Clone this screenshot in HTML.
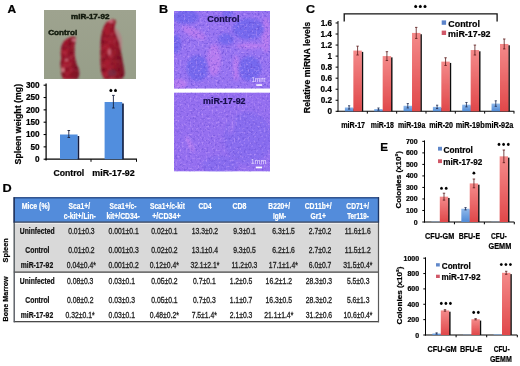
<!DOCTYPE html><html><head><meta charset="utf-8"><style>html,body{margin:0;padding:0;background:#fff;}svg{display:block;will-change:transform}</style></head><body>
<svg width="520" height="366" viewBox="0 0 520 366" font-family='"Liberation Sans", sans-serif'>
<defs>
<linearGradient id="redg" x1="0" y1="0" x2="0" y2="1"><stop offset="0" stop-color="#f48a8a"/><stop offset="1" stop-color="#e0484a"/></linearGradient>
<linearGradient id="blueg" x1="0" y1="0" x2="0" y2="1"><stop offset="0" stop-color="#8fb8ea"/><stop offset="1" stop-color="#4f8ad6"/></linearGradient>
<linearGradient id="photobg" x1="0" y1="0" x2="0" y2="1"><stop offset="0" stop-color="#9ea38f"/><stop offset="1" stop-color="#979e89"/></linearGradient>
<linearGradient id="spl" x1="0" y1="0" x2="1" y2="0"><stop offset="0" stop-color="#8c1828"/><stop offset="0.25" stop-color="#a81c30"/><stop offset="0.6" stop-color="#961a2c"/><stop offset="1" stop-color="#741424"/></linearGradient>
<filter id="sptex" x="0" y="0" width="100%" height="100%" color-interpolation-filters="sRGB">
 <feTurbulence type="fractalNoise" baseFrequency="0.18" numOctaves="2" seed="11"/>
 <feColorMatrix type="matrix" values="0 0 0 0 0.42  0 0 0 0 0.03  0 0 0 0 0.12  3.2 0 0 0 -1.45"/>
</filter>
<filter id="gblur" x="0" y="0" width="100%" height="100%"><feGaussianBlur stdDeviation="0.35"/></filter>
<filter id="sptex2" x="0" y="0" width="100%" height="100%" color-interpolation-filters="sRGB">
 <feTurbulence type="fractalNoise" baseFrequency="0.22" numOctaves="2" seed="23"/>
 <feColorMatrix type="matrix" values="0 0 0 0 0.82  0 0 0 0 0.36  0 0 0 0 0.42  0 3.5 0 0 -1.75"/>
</filter>
<filter id="blur1" x="-20%" y="-20%" width="140%" height="140%"><feGaussianBlur stdDeviation="0.8"/></filter>
<filter id="blur3" x="-50%" y="-50%" width="200%" height="200%"><feGaussianBlur stdDeviation="1.8"/></filter>
<filter id="dspk" x="0" y="0" width="100%" height="100%" color-interpolation-filters="sRGB">
 <feTurbulence type="fractalNoise" baseFrequency="0.45" numOctaves="2" seed="7"/>
 <feColorMatrix type="matrix" values="0 0 0 0 0.36  0 0 0 0 0.26  0 0 0 0 0.80  4 0 0 0 -2.1"/>
</filter>
<filter id="lspk" x="0" y="0" width="100%" height="100%" color-interpolation-filters="sRGB">
 <feTurbulence type="fractalNoise" baseFrequency="0.5" numOctaves="2" seed="19"/>
 <feColorMatrix type="matrix" values="0 0 0 0 0.82  0 0 0 0 0.66  0 0 0 0 1.0  0 4 0 0 -2.2"/>
</filter>
<clipPath id="clipB1"><rect x="174" y="11" width="96" height="77.7"/></clipPath>
<clipPath id="clipB2"><rect x="174" y="92.4" width="96" height="79.2"/></clipPath>
<clipPath id="clipA"><rect x="44" y="10" width="92" height="69"/></clipPath>
</defs>
<rect width="520" height="366" fill="#fff"/>
<g filter="url(#gblur)">
<text x="7.50" y="12.50" font-size="11.5" font-weight="bold" fill="#000" stroke="#000" stroke-width="0.22" textLength="8.62" lengthAdjust="spacingAndGlyphs" >A</text>
<g clip-path="url(#clipA)">
<rect x="44.00" y="10.00" width="92.00" height="69.00" fill="url(#photobg)" />
<clipPath id="cl1"><path d="M72.8,36.6 C75,36.6 76.5,37.5 76,39.5 C75,43 74.4,47 74.6,51 C74.8,56 75.2,60 76.6,64 C77.8,67.5 79.6,70 79.3,74 C79.1,77 78,78.6 76.5,79.2 L64,79.2 C62.3,78 61.5,76 61.4,73 C61.2,70 60.4,67 60.6,63 C60.8,60 61.6,59 61,56 C60.4,52 60.8,48 62,45 C63.5,41 67,38 72.8,36.6 Z"/></clipPath><clipPath id="cl2"><path d="M111.5,19.5 C114,19 116,20 115.8,22 C115.6,24.5 114.4,26 114.6,29 C115,33 117.6,37 119,42 C120.6,48 121.4,55 122.6,61 C123.6,66 124.6,70 124.4,74 C124.2,77 122.5,78.8 120.5,79.2 L105,79.2 C103,77.5 101.8,75 101.2,71 C100.6,66 100.4,60 100.5,53 C100.6,46 100.6,41 101.3,36 C102.2,30 104,25 107,22 C108.5,20.5 110,19.7 111.5,19.5 Z"/></clipPath>
<g filter="url(#blur1)">
<path d="M114,27 C117,28 120,32 121.5,38 C122.5,44 122,50 121,54 C119.5,48 118,40 115.5,33 Z" fill="#b87880" opacity="0.7"/>
<path d="M72.8,36.6 C75,36.6 76.5,37.5 76,39.5 C75,43 74.4,47 74.6,51 C74.8,56 75.2,60 76.6,64 C77.8,67.5 79.6,70 79.3,74 C79.1,77 78,78.6 76.5,79.2 L64,79.2 C62.3,78 61.5,76 61.4,73 C61.2,70 60.4,67 60.6,63 C60.8,60 61.6,59 61,56 C60.4,52 60.8,48 62,45 C63.5,41 67,38 72.8,36.6 Z" fill="url(#spl)"/>
<g clip-path="url(#cl1)"><rect x="44" y="10" width="92" height="70" fill="#fff" filter="url(#sptex)" opacity="0.6"/><rect x="44" y="10" width="92" height="70" fill="#fff" filter="url(#sptex2)" opacity="0.3"/></g>
<path d="M111.5,19.5 C114,19 116,20 115.8,22 C115.6,24.5 114.4,26 114.6,29 C115,33 117.6,37 119,42 C120.6,48 121.4,55 122.6,61 C123.6,66 124.6,70 124.4,74 C124.2,77 122.5,78.8 120.5,79.2 L105,79.2 C103,77.5 101.8,75 101.2,71 C100.6,66 100.4,60 100.5,53 C100.6,46 100.6,41 101.3,36 C102.2,30 104,25 107,22 C108.5,20.5 110,19.7 111.5,19.5 Z" fill="url(#spl)"/>
<g clip-path="url(#cl2)"><rect x="44" y="10" width="92" height="70" fill="#fff" filter="url(#sptex)" opacity="0.6"/><rect x="44" y="10" width="92" height="70" fill="#fff" filter="url(#sptex2)" opacity="0.3"/></g>
<ellipse cx="63" cy="70" rx="1.4" ry="2.2" fill="#f0a0a8" opacity="0.75"/>
<ellipse cx="66.5" cy="60" rx="1.5" ry="1.2" fill="#e890a0" opacity="0.7"/>
<ellipse cx="74" cy="40" rx="2.2" ry="1.3" fill="#f0a0b0" opacity="0.7"/>
<ellipse cx="111" cy="21.5" rx="2.6" ry="1.4" fill="#f0a0b0" opacity="0.6"/>
<ellipse cx="109.5" cy="52" rx="1.2" ry="3.5" fill="#e8a0b0" opacity="0.6"/>
<ellipse cx="112" cy="73" rx="4.5" ry="3.5" fill="#6a3a50" opacity="0.55"/>
</g>
<text x="70.98" y="19.10" font-size="8" font-weight="bold" fill="#121a0c" stroke="#121a0c" stroke-width="0.45" textLength="38.55" lengthAdjust="spacingAndGlyphs" >miR-17-92</text>
<text x="48.17" y="34.90" font-size="8" font-weight="bold" fill="#121a0c" stroke="#121a0c" stroke-width="0.45" textLength="29.00" lengthAdjust="spacingAndGlyphs" >Control</text>
</g>
<line x1="46.10" y1="83.40" x2="46.10" y2="160.50" stroke="#000" stroke-width="1.25"/>
<line x1="43.60" y1="159.20" x2="46.10" y2="159.20" stroke="#000" stroke-width="1.1"/>
<text x="35.08" y="162.10" font-size="8.2" font-weight="bold" fill="#000" stroke="#000" stroke-width="0.22" textLength="4.56" lengthAdjust="spacingAndGlyphs" >0</text>
<line x1="43.60" y1="146.86" x2="46.10" y2="146.86" stroke="#000" stroke-width="1.1"/>
<text x="30.53" y="149.76" font-size="8.2" font-weight="bold" fill="#000" stroke="#000" stroke-width="0.22" textLength="9.12" lengthAdjust="spacingAndGlyphs" >50</text>
<line x1="43.60" y1="134.53" x2="46.10" y2="134.53" stroke="#000" stroke-width="1.1"/>
<text x="25.97" y="137.43" font-size="8.2" font-weight="bold" fill="#000" stroke="#000" stroke-width="0.22" textLength="13.68" lengthAdjust="spacingAndGlyphs" >100</text>
<line x1="43.60" y1="122.19" x2="46.10" y2="122.19" stroke="#000" stroke-width="1.1"/>
<text x="25.97" y="125.09" font-size="8.2" font-weight="bold" fill="#000" stroke="#000" stroke-width="0.22" textLength="13.68" lengthAdjust="spacingAndGlyphs" >150</text>
<line x1="43.60" y1="109.86" x2="46.10" y2="109.86" stroke="#000" stroke-width="1.1"/>
<text x="25.97" y="112.76" font-size="8.2" font-weight="bold" fill="#000" stroke="#000" stroke-width="0.22" textLength="13.68" lengthAdjust="spacingAndGlyphs" >200</text>
<line x1="43.60" y1="97.52" x2="46.10" y2="97.52" stroke="#000" stroke-width="1.1"/>
<text x="25.97" y="100.42" font-size="8.2" font-weight="bold" fill="#000" stroke="#000" stroke-width="0.22" textLength="13.68" lengthAdjust="spacingAndGlyphs" >250</text>
<line x1="43.60" y1="85.19" x2="46.10" y2="85.19" stroke="#000" stroke-width="1.1"/>
<text x="25.98" y="88.09" font-size="8.2" font-weight="bold" fill="#000" stroke="#000" stroke-width="0.22" textLength="13.68" lengthAdjust="spacingAndGlyphs" >300</text>
<line x1="45.50" y1="159.10" x2="137.00" y2="159.10" stroke="#000" stroke-width="1.3"/>
<line x1="91.00" y1="159.20" x2="91.00" y2="161.80" stroke="#000" stroke-width="1"/>
<line x1="136.50" y1="159.20" x2="136.50" y2="161.80" stroke="#000" stroke-width="1"/>
<rect x="77.40" y="136.00" width="1.80" height="23.20" fill="#121c3c" />
<rect x="60.00" y="134.50" width="17.60" height="24.70" fill="#518ede" />
<rect x="122.00" y="103.50" width="1.80" height="55.70" fill="#121c3c" />
<rect x="104.60" y="102.00" width="17.60" height="57.20" fill="#518ede" />
<line x1="68.80" y1="130.50" x2="68.80" y2="137.50" stroke="#1a2340" stroke-width="0.9"/>
<line x1="67.50" y1="130.50" x2="70.10" y2="130.50" stroke="#1a2340" stroke-width="0.9"/>
<line x1="67.50" y1="137.50" x2="70.10" y2="137.50" stroke="#1a2340" stroke-width="0.9"/>
<line x1="113.40" y1="95.40" x2="113.40" y2="108.00" stroke="#1a2340" stroke-width="0.9"/>
<line x1="112.10" y1="95.40" x2="114.70" y2="95.40" stroke="#1a2340" stroke-width="0.9"/>
<line x1="112.10" y1="108.00" x2="114.70" y2="108.00" stroke="#1a2340" stroke-width="0.9"/>
<circle cx="110.90" cy="90.50" r="1.5" fill="#000"/>
<path d="M110.90,88.50 l0.45,0.9 l-0.9,0 z" fill="#000"/>
<circle cx="115.50" cy="90.50" r="1.5" fill="#000"/>
<path d="M115.50,88.50 l0.45,0.9 l-0.9,0 z" fill="#000"/>
<text transform="translate(20.70,164.20) rotate(-90)" x="-0.26" y="0" font-size="9" font-weight="bold" fill="#000" stroke="#000" stroke-width="0.22" textLength="80.58" lengthAdjust="spacingAndGlyphs">Spleen weight (mg)</text>
<text x="53.45" y="175.90" font-size="9" font-weight="bold" fill="#000" stroke="#000" stroke-width="0.22" textLength="30.85" lengthAdjust="spacingAndGlyphs" >Control</text>
<text x="92.32" y="175.90" font-size="9" font-weight="bold" fill="#000" stroke="#000" stroke-width="0.22" textLength="42.43" lengthAdjust="spacingAndGlyphs" >miR-17-92</text>
<text x="158.98" y="12.70" font-size="11.5" font-weight="bold" fill="#000" stroke="#000" stroke-width="0.22" textLength="9.12" lengthAdjust="spacingAndGlyphs" >B</text>
<g clip-path="url(#clipB1)">
<rect x="174.00" y="11.00" width="96.00" height="77.70" fill="#9874f2" />
<g filter="url(#blur3)">
<ellipse cx="194" cy="33" rx="13" ry="4.5" transform="rotate(25 194 33)" fill="#bc7cf0" opacity="0.85"/>
<ellipse cx="214" cy="60" rx="7" ry="16" transform="rotate(0 214 60)" fill="#bc7cf0" opacity="0.85"/>
<ellipse cx="236" cy="68" rx="3" ry="13" transform="rotate(0 236 68)" fill="#bc7cf0" opacity="0.85"/>
<ellipse cx="266" cy="35" rx="4" ry="18" transform="rotate(0 266 35)" fill="#bc7cf0" opacity="0.85"/>
<ellipse cx="180" cy="84" rx="7" ry="5" transform="rotate(0 180 84)" fill="#bc7cf0" opacity="0.85"/>
<ellipse cx="250" cy="46" rx="14" ry="3" transform="rotate(0 250 46)" fill="#bc7cf0" opacity="0.85"/>
<ellipse cx="186" cy="17" rx="13" ry="7" transform="rotate(0 186 17)" fill="#7468ee" opacity="0.95"/>
<ellipse cx="176" cy="44" rx="5" ry="10" transform="rotate(0 176 44)" fill="#7468ee" opacity="0.95"/>
<ellipse cx="197.5" cy="68" rx="11" ry="13" transform="rotate(0 197.5 68)" fill="#7468ee" opacity="0.95"/>
<ellipse cx="248.5" cy="29" rx="16" ry="10.5" transform="rotate(0 248.5 29)" fill="#7468ee" opacity="0.95"/>
<ellipse cx="226" cy="39" rx="8" ry="6" transform="rotate(0 226 39)" fill="#7468ee" opacity="0.95"/>
<ellipse cx="249.7" cy="68.4" rx="11.5" ry="12.5" transform="rotate(0 249.7 68.4)" fill="#7468ee" opacity="0.95"/>
<ellipse cx="228" cy="14" rx="6" ry="3" transform="rotate(0 228 14)" fill="#7468ee" opacity="0.95"/>
</g>
<rect x="174" y="11" width="96" height="77.7" fill="#fff" filter="url(#dspk)" opacity="0.5"/>
<rect x="174" y="11" width="96" height="77.7" fill="#fff" filter="url(#lspk)" opacity="0.5"/>
</g>
<g clip-path="url(#clipB2)">
<rect x="174.00" y="92.40" width="96.00" height="79.20" fill="#9670f0" />
<g filter="url(#blur3)">
<ellipse cx="190" cy="144" rx="1.6" ry="9" transform="rotate(-25 190 144)" fill="#cc88f4" opacity="0.85"/>
<ellipse cx="232" cy="126" rx="1.3" ry="9" transform="rotate(12 232 126)" fill="#cc88f4" opacity="0.85"/>
<ellipse cx="248" cy="138" rx="24" ry="26" transform="rotate(0 248 138)" fill="#7468ee" opacity="0.35"/>
<ellipse cx="220" cy="165" rx="18" ry="9" transform="rotate(0 220 165)" fill="#7468ee" opacity="0.35"/>
</g>
<rect x="174" y="92.4" width="96" height="79.2" fill="#fff" filter="url(#dspk)" opacity="0.4"/>
<rect x="174" y="92.4" width="96" height="79.2" fill="#fff" filter="url(#lspk)" opacity="0.5"/>
</g>
<text x="207.34" y="22.10" font-size="9" font-weight="bold" fill="#160f4a" stroke="#160f4a" stroke-width="0.22" textLength="32.09" lengthAdjust="spacingAndGlyphs" >Control</text>
<text x="203.12" y="104.10" font-size="9" font-weight="bold" fill="#160f4a" stroke="#160f4a" stroke-width="0.22" textLength="42.43" lengthAdjust="spacingAndGlyphs" >miR-17-92</text>
<text x="251.42" y="81.60" font-size="6.5" font-weight="normal" fill="#e8dcff" stroke="#e8dcff" stroke-width="0" textLength="14.18" lengthAdjust="spacingAndGlyphs" >1mm</text>
<rect x="256.20" y="84.30" width="5.90" height="1.50" fill="#fff" />
<text x="250.67" y="163.80" font-size="6.5" font-weight="normal" fill="#e8dcff" stroke="#e8dcff" stroke-width="0" textLength="15.56" lengthAdjust="spacingAndGlyphs" >1mm</text>
<rect x="255.80" y="166.60" width="6.20" height="1.70" fill="#fff" />
<text x="305.90" y="12.80" font-size="11.5" font-weight="bold" fill="#000" stroke="#000" stroke-width="0.22" textLength="9.04" lengthAdjust="spacingAndGlyphs" >C</text>
<line x1="338.00" y1="21.00" x2="338.00" y2="111.80" stroke="#000" stroke-width="1"/>
<line x1="335.60" y1="111.30" x2="338.00" y2="111.30" stroke="#000" stroke-width="1"/>
<text x="327.58" y="114.20" font-size="8.2" font-weight="bold" fill="#000" stroke="#000" stroke-width="0.22" textLength="4.56" lengthAdjust="spacingAndGlyphs" >0</text>
<line x1="335.60" y1="100.26" x2="338.00" y2="100.26" stroke="#000" stroke-width="1"/>
<text x="320.73" y="103.16" font-size="8.2" font-weight="bold" fill="#000" stroke="#000" stroke-width="0.22" textLength="11.40" lengthAdjust="spacingAndGlyphs" >0.2</text>
<line x1="335.60" y1="89.22" x2="338.00" y2="89.22" stroke="#000" stroke-width="1"/>
<text x="320.44" y="92.12" font-size="8.2" font-weight="bold" fill="#000" stroke="#000" stroke-width="0.22" textLength="11.40" lengthAdjust="spacingAndGlyphs" >0.4</text>
<line x1="335.60" y1="78.18" x2="338.00" y2="78.18" stroke="#000" stroke-width="1"/>
<text x="320.69" y="81.08" font-size="8.2" font-weight="bold" fill="#000" stroke="#000" stroke-width="0.22" textLength="11.40" lengthAdjust="spacingAndGlyphs" >0.6</text>
<line x1="335.60" y1="67.14" x2="338.00" y2="67.14" stroke="#000" stroke-width="1"/>
<text x="320.65" y="70.04" font-size="8.2" font-weight="bold" fill="#000" stroke="#000" stroke-width="0.22" textLength="11.40" lengthAdjust="spacingAndGlyphs" >0.8</text>
<line x1="335.60" y1="56.10" x2="338.00" y2="56.10" stroke="#000" stroke-width="1"/>
<text x="327.45" y="59.00" font-size="8.2" font-weight="bold" fill="#000" stroke="#000" stroke-width="0.22" textLength="4.56" lengthAdjust="spacingAndGlyphs" >1</text>
<line x1="335.60" y1="45.06" x2="338.00" y2="45.06" stroke="#000" stroke-width="1"/>
<text x="320.73" y="47.96" font-size="8.2" font-weight="bold" fill="#000" stroke="#000" stroke-width="0.22" textLength="11.40" lengthAdjust="spacingAndGlyphs" >1.2</text>
<line x1="335.60" y1="34.02" x2="338.00" y2="34.02" stroke="#000" stroke-width="1"/>
<text x="320.44" y="36.92" font-size="8.2" font-weight="bold" fill="#000" stroke="#000" stroke-width="0.22" textLength="11.40" lengthAdjust="spacingAndGlyphs" >1.4</text>
<line x1="335.60" y1="22.98" x2="338.00" y2="22.98" stroke="#000" stroke-width="1"/>
<text x="320.69" y="25.88" font-size="8.2" font-weight="bold" fill="#000" stroke="#000" stroke-width="0.22" textLength="11.40" lengthAdjust="spacingAndGlyphs" >1.6</text>
<line x1="337.50" y1="111.30" x2="514.30" y2="111.30" stroke="#000" stroke-width="1.1"/>
<line x1="367.33" y1="111.30" x2="367.33" y2="113.60" stroke="#000" stroke-width="1"/>
<line x1="396.66" y1="111.30" x2="396.66" y2="113.60" stroke="#000" stroke-width="1"/>
<line x1="425.99" y1="111.30" x2="425.99" y2="113.60" stroke="#000" stroke-width="1"/>
<line x1="455.32" y1="111.30" x2="455.32" y2="113.60" stroke="#000" stroke-width="1"/>
<line x1="484.65" y1="111.30" x2="484.65" y2="113.60" stroke="#000" stroke-width="1"/>
<line x1="513.98" y1="111.30" x2="513.98" y2="113.60" stroke="#000" stroke-width="1"/>
<rect x="353.15" y="108.44" width="1.30" height="2.86" fill="#1c2b60" />
<rect x="344.90" y="107.44" width="8.45" height="3.86" fill="url(#blueg)" />
<rect x="361.50" y="51.88" width="1.70" height="59.42" fill="#111" />
<rect x="353.35" y="50.58" width="8.45" height="60.72" fill="url(#redg)" />
<line x1="349.12" y1="105.78" x2="349.12" y2="109.09" stroke="#1a2a50" stroke-width="0.8"/>
<line x1="348.02" y1="105.78" x2="350.23" y2="105.78" stroke="#1a2a50" stroke-width="0.8"/>
<line x1="348.02" y1="109.09" x2="350.23" y2="109.09" stroke="#1a2a50" stroke-width="0.8"/>
<line x1="357.58" y1="46.16" x2="357.58" y2="55.00" stroke="#5a1a1a" stroke-width="0.8"/>
<line x1="356.38" y1="46.16" x2="358.78" y2="46.16" stroke="#5a1a1a" stroke-width="0.8"/>
<line x1="356.38" y1="55.00" x2="358.78" y2="55.00" stroke="#5a1a1a" stroke-width="0.8"/>
<rect x="382.48" y="110.09" width="1.30" height="1.21" fill="#1c2b60" />
<rect x="374.23" y="109.09" width="8.45" height="2.21" fill="url(#blueg)" />
<rect x="390.83" y="57.40" width="1.70" height="53.90" fill="#111" />
<rect x="382.68" y="56.10" width="8.45" height="55.20" fill="url(#redg)" />
<line x1="378.45" y1="107.99" x2="378.45" y2="110.20" stroke="#1a2a50" stroke-width="0.8"/>
<line x1="377.35" y1="107.99" x2="379.56" y2="107.99" stroke="#1a2a50" stroke-width="0.8"/>
<line x1="377.35" y1="110.20" x2="379.56" y2="110.20" stroke="#1a2a50" stroke-width="0.8"/>
<line x1="386.91" y1="51.68" x2="386.91" y2="60.52" stroke="#5a1a1a" stroke-width="0.8"/>
<line x1="385.71" y1="51.68" x2="388.11" y2="51.68" stroke="#5a1a1a" stroke-width="0.8"/>
<line x1="385.71" y1="60.52" x2="388.11" y2="60.52" stroke="#5a1a1a" stroke-width="0.8"/>
<rect x="411.81" y="106.78" width="1.30" height="4.52" fill="#1c2b60" />
<rect x="403.56" y="105.78" width="8.45" height="5.52" fill="url(#blueg)" />
<rect x="420.16" y="34.22" width="1.70" height="77.08" fill="#111" />
<rect x="412.01" y="32.92" width="8.45" height="78.38" fill="url(#redg)" />
<line x1="407.78" y1="103.57" x2="407.78" y2="107.99" stroke="#1a2a50" stroke-width="0.8"/>
<line x1="406.68" y1="103.57" x2="408.88" y2="103.57" stroke="#1a2a50" stroke-width="0.8"/>
<line x1="406.68" y1="107.99" x2="408.88" y2="107.99" stroke="#1a2a50" stroke-width="0.8"/>
<line x1="416.24" y1="27.40" x2="416.24" y2="38.44" stroke="#5a1a1a" stroke-width="0.8"/>
<line x1="415.04" y1="27.40" x2="417.44" y2="27.40" stroke="#5a1a1a" stroke-width="0.8"/>
<line x1="415.04" y1="38.44" x2="417.44" y2="38.44" stroke="#5a1a1a" stroke-width="0.8"/>
<rect x="441.14" y="107.88" width="1.30" height="3.42" fill="#1c2b60" />
<rect x="432.89" y="106.88" width="8.45" height="4.42" fill="url(#blueg)" />
<rect x="449.49" y="62.92" width="1.70" height="48.38" fill="#111" />
<rect x="441.34" y="61.62" width="8.45" height="49.68" fill="url(#redg)" />
<line x1="437.12" y1="105.23" x2="437.12" y2="108.54" stroke="#1a2a50" stroke-width="0.8"/>
<line x1="436.01" y1="105.23" x2="438.22" y2="105.23" stroke="#1a2a50" stroke-width="0.8"/>
<line x1="436.01" y1="108.54" x2="438.22" y2="108.54" stroke="#1a2a50" stroke-width="0.8"/>
<line x1="445.57" y1="57.76" x2="445.57" y2="65.48" stroke="#5a1a1a" stroke-width="0.8"/>
<line x1="444.37" y1="57.76" x2="446.77" y2="57.76" stroke="#5a1a1a" stroke-width="0.8"/>
<line x1="444.37" y1="65.48" x2="446.77" y2="65.48" stroke="#5a1a1a" stroke-width="0.8"/>
<rect x="470.47" y="105.68" width="1.30" height="5.62" fill="#1c2b60" />
<rect x="462.22" y="104.68" width="8.45" height="6.62" fill="url(#blueg)" />
<rect x="478.82" y="51.33" width="1.70" height="59.97" fill="#111" />
<rect x="470.67" y="50.03" width="8.45" height="61.27" fill="url(#redg)" />
<line x1="466.44" y1="102.47" x2="466.44" y2="106.88" stroke="#1a2a50" stroke-width="0.8"/>
<line x1="465.34" y1="102.47" x2="467.55" y2="102.47" stroke="#1a2a50" stroke-width="0.8"/>
<line x1="465.34" y1="106.88" x2="467.55" y2="106.88" stroke="#1a2a50" stroke-width="0.8"/>
<line x1="474.90" y1="45.06" x2="474.90" y2="55.00" stroke="#5a1a1a" stroke-width="0.8"/>
<line x1="473.70" y1="45.06" x2="476.10" y2="45.06" stroke="#5a1a1a" stroke-width="0.8"/>
<line x1="473.70" y1="55.00" x2="476.10" y2="55.00" stroke="#5a1a1a" stroke-width="0.8"/>
<rect x="499.80" y="104.57" width="1.30" height="6.73" fill="#1c2b60" />
<rect x="491.55" y="103.57" width="8.45" height="7.73" fill="url(#blueg)" />
<rect x="508.15" y="45.26" width="1.70" height="66.04" fill="#111" />
<rect x="500.00" y="43.96" width="8.45" height="67.34" fill="url(#redg)" />
<line x1="495.77" y1="100.81" x2="495.77" y2="106.33" stroke="#1a2a50" stroke-width="0.8"/>
<line x1="494.67" y1="100.81" x2="496.88" y2="100.81" stroke="#1a2a50" stroke-width="0.8"/>
<line x1="494.67" y1="106.33" x2="496.88" y2="106.33" stroke="#1a2a50" stroke-width="0.8"/>
<line x1="504.23" y1="38.99" x2="504.23" y2="48.92" stroke="#5a1a1a" stroke-width="0.8"/>
<line x1="503.03" y1="38.99" x2="505.43" y2="38.99" stroke="#5a1a1a" stroke-width="0.8"/>
<line x1="503.03" y1="48.92" x2="505.43" y2="48.92" stroke="#5a1a1a" stroke-width="0.8"/>
<text x="341.24" y="128.30" font-size="8.3" font-weight="bold" fill="#000" stroke="#000" stroke-width="0.22" textLength="23.85" lengthAdjust="spacingAndGlyphs" >miR-17</text>
<text x="370.75" y="128.30" font-size="8.3" font-weight="bold" fill="#000" stroke="#000" stroke-width="0.22" textLength="23.16" lengthAdjust="spacingAndGlyphs" >miR-18</text>
<text x="398.04" y="128.30" font-size="8.3" font-weight="bold" fill="#000" stroke="#000" stroke-width="0.22" textLength="27.29" lengthAdjust="spacingAndGlyphs" >miR-19a</text>
<text x="429.14" y="128.30" font-size="8.3" font-weight="bold" fill="#000" stroke="#000" stroke-width="0.22" textLength="23.85" lengthAdjust="spacingAndGlyphs" >miR-20</text>
<text x="455.72" y="128.30" font-size="8.3" font-weight="bold" fill="#000" stroke="#000" stroke-width="0.22" textLength="28.97" lengthAdjust="spacingAndGlyphs" >miR-19b</text>
<text x="484.93" y="128.30" font-size="8.3" font-weight="bold" fill="#000" stroke="#000" stroke-width="0.22" textLength="28.31" lengthAdjust="spacingAndGlyphs" >miR-92a</text>
<text transform="translate(309.60,112.60) rotate(-90)" x="-0.57" y="0" font-size="8.3" font-weight="bold" fill="#000" stroke="#000" stroke-width="0.22" textLength="91.34" lengthAdjust="spacingAndGlyphs">Relative miRNA levels</text>
<polyline points="344.2,21.5 344.2,13.8 497.1,13.8 497.1,21.6" fill="none" stroke="#111" stroke-width="1.3"/>
<circle cx="415.70" cy="6.60" r="1.5" fill="#000"/>
<path d="M415.70,4.60 l0.45,0.9 l-0.9,0 z" fill="#000"/>
<circle cx="420.30" cy="6.60" r="1.5" fill="#000"/>
<path d="M420.30,4.60 l0.45,0.9 l-0.9,0 z" fill="#000"/>
<circle cx="425.00" cy="6.60" r="1.5" fill="#000"/>
<path d="M425.00,4.60 l0.45,0.9 l-0.9,0 z" fill="#000"/>
<rect x="441.70" y="20.40" width="4.40" height="4.40" fill="#5c84ca" />
<rect x="441.70" y="30.60" width="4.40" height="4.40" fill="#d05868" />
<text x="448.34" y="27.30" font-size="9" font-weight="bold" fill="#000" stroke="#000" stroke-width="0.22" textLength="31.57" lengthAdjust="spacingAndGlyphs" >Control</text>
<text x="448.12" y="37.20" font-size="9" font-weight="bold" fill="#000" stroke="#000" stroke-width="0.22" textLength="42.43" lengthAdjust="spacingAndGlyphs" >miR-17-92</text>
<text x="2.48" y="192.20" font-size="11.5" font-weight="bold" fill="#000" stroke="#000" stroke-width="0.22" textLength="9.16" lengthAdjust="spacingAndGlyphs" >D</text>
<rect x="13.80" y="197.40" width="365.00" height="24.40" fill="#528cdb" />
<rect x="13.80" y="222.00" width="365.00" height="49.80" fill="#d9d9d9" />
<rect x="13.80" y="197.20" width="365.00" height="1.20" fill="#1f3f7a" />
<rect x="13.80" y="221.50" width="365.00" height="1.30" fill="#1a2a4a" />
<rect x="13.80" y="271.50" width="365.00" height="1.20" fill="#3a3a3a" />
<rect x="13.80" y="321.00" width="365.00" height="1.30" fill="#4a4a4a" />
<rect x="13.50" y="197.20" width="1.40" height="125.10" fill="#555a60" />
<rect x="13.50" y="197.20" width="1.40" height="25.50" fill="#1f3566" />
<rect x="377.90" y="197.20" width="1.20" height="125.10" fill="#5a5a5a" />
<rect x="377.90" y="197.20" width="1.20" height="25.50" fill="#1f3566" />
<rect x="14.90" y="222.80" width="363.00" height="1.00" fill="#f0f0f0" />
<text x="21.65" y="209.40" font-size="8.6" font-weight="bold" fill="#fff" stroke="#fff" stroke-width="0.22" textLength="28.28" lengthAdjust="spacingAndGlyphs" >Mice (%)</text>
<text x="68.60" y="209.30" font-size="8.6" font-weight="bold" fill="#fff" stroke="#fff" stroke-width="0.22" textLength="21.45" lengthAdjust="spacingAndGlyphs" >Sca1+/</text>
<text x="63.73" y="218.90" font-size="8.6" font-weight="bold" fill="#fff" stroke="#fff" stroke-width="0.22" textLength="32.11" lengthAdjust="spacingAndGlyphs" >c-kit+/Lin-</text>
<text x="109.60" y="209.30" font-size="8.6" font-weight="bold" fill="#fff" stroke="#fff" stroke-width="0.22" textLength="26.84" lengthAdjust="spacingAndGlyphs" >Sca1+/c-</text>
<text x="106.42" y="218.90" font-size="8.6" font-weight="bold" fill="#fff" stroke="#fff" stroke-width="0.22" textLength="33.44" lengthAdjust="spacingAndGlyphs" >kit+/CD34-</text>
<text x="150.00" y="209.30" font-size="8.6" font-weight="bold" fill="#fff" stroke="#fff" stroke-width="0.22" textLength="34.89" lengthAdjust="spacingAndGlyphs" >Sca1+/c-kit</text>
<text x="152.22" y="218.90" font-size="8.6" font-weight="bold" fill="#fff" stroke="#fff" stroke-width="0.22" textLength="28.45" lengthAdjust="spacingAndGlyphs" >+/CD34+</text>
<text x="198.54" y="209.40" font-size="8.6" font-weight="bold" fill="#fff" stroke="#fff" stroke-width="0.22" textLength="13.00" lengthAdjust="spacingAndGlyphs" >CD4</text>
<text x="232.42" y="209.40" font-size="8.6" font-weight="bold" fill="#fff" stroke="#fff" stroke-width="0.22" textLength="13.99" lengthAdjust="spacingAndGlyphs" >CD8</text>
<text x="268.37" y="209.30" font-size="8.6" font-weight="bold" fill="#fff" stroke="#fff" stroke-width="0.22" textLength="21.68" lengthAdjust="spacingAndGlyphs" >B220+/</text>
<text x="272.98" y="218.90" font-size="8.6" font-weight="bold" fill="#fff" stroke="#fff" stroke-width="0.22" textLength="13.17" lengthAdjust="spacingAndGlyphs" >IgM-</text>
<text x="304.73" y="209.30" font-size="8.6" font-weight="bold" fill="#fff" stroke="#fff" stroke-width="0.22" textLength="26.93" lengthAdjust="spacingAndGlyphs" >CD11b+/</text>
<text x="310.53" y="218.90" font-size="8.6" font-weight="bold" fill="#fff" stroke="#fff" stroke-width="0.22" textLength="15.52" lengthAdjust="spacingAndGlyphs" >Gr1+</text>
<text x="346.33" y="209.30" font-size="8.6" font-weight="bold" fill="#fff" stroke="#fff" stroke-width="0.22" textLength="22.72" lengthAdjust="spacingAndGlyphs" >CD71+/</text>
<text x="347.24" y="218.90" font-size="8.6" font-weight="bold" fill="#fff" stroke="#fff" stroke-width="0.22" textLength="21.50" lengthAdjust="spacingAndGlyphs" >Ter119-</text>
<text x="19.80" y="234.20" font-size="8.6" font-weight="bold" fill="#111" stroke="#111" stroke-width="0.22" textLength="34.86" lengthAdjust="spacingAndGlyphs" >Uninfected</text>
<text x="68.20" y="234.20" font-size="8.6" font-weight="normal" fill="#222" stroke="#222" stroke-width="0.32" textLength="26.40" lengthAdjust="spacingAndGlyphs" >0.01±0.3</text>
<text x="108.53" y="234.20" font-size="8.6" font-weight="normal" fill="#222" stroke="#222" stroke-width="0.32" textLength="30.18" lengthAdjust="spacingAndGlyphs" >0.001±0.1</text>
<text x="151.22" y="234.20" font-size="8.6" font-weight="normal" fill="#222" stroke="#222" stroke-width="0.32" textLength="26.40" lengthAdjust="spacingAndGlyphs" >0.02±0.1</text>
<text x="191.72" y="234.20" font-size="8.6" font-weight="normal" fill="#222" stroke="#222" stroke-width="0.32" textLength="26.40" lengthAdjust="spacingAndGlyphs" >13.3±0.2</text>
<text x="233.19" y="234.20" font-size="8.6" font-weight="normal" fill="#222" stroke="#222" stroke-width="0.32" textLength="22.62" lengthAdjust="spacingAndGlyphs" >9.3±0.1</text>
<text x="272.25" y="234.20" font-size="8.6" font-weight="normal" fill="#222" stroke="#222" stroke-width="0.32" textLength="22.62" lengthAdjust="spacingAndGlyphs" >6.3±1.5</text>
<text x="308.79" y="234.20" font-size="8.6" font-weight="normal" fill="#222" stroke="#222" stroke-width="0.32" textLength="22.62" lengthAdjust="spacingAndGlyphs" >2.7±0.2</text>
<text x="344.84" y="234.20" font-size="8.6" font-weight="normal" fill="#222" stroke="#222" stroke-width="0.32" textLength="25.89" lengthAdjust="spacingAndGlyphs" >11.6±1.6</text>
<text x="25.33" y="253.40" font-size="8.6" font-weight="bold" fill="#111" stroke="#111" stroke-width="0.22" textLength="24.15" lengthAdjust="spacingAndGlyphs" >Control</text>
<text x="68.24" y="253.40" font-size="8.6" font-weight="normal" fill="#222" stroke="#222" stroke-width="0.32" textLength="26.40" lengthAdjust="spacingAndGlyphs" >0.01±0.2</text>
<text x="108.52" y="253.40" font-size="8.6" font-weight="normal" fill="#222" stroke="#222" stroke-width="0.32" textLength="30.18" lengthAdjust="spacingAndGlyphs" >0.001±0.3</text>
<text x="151.24" y="253.40" font-size="8.6" font-weight="normal" fill="#222" stroke="#222" stroke-width="0.32" textLength="26.40" lengthAdjust="spacingAndGlyphs" >0.02±0.2</text>
<text x="191.65" y="253.40" font-size="8.6" font-weight="normal" fill="#222" stroke="#222" stroke-width="0.32" textLength="26.40" lengthAdjust="spacingAndGlyphs" >13.1±0.4</text>
<text x="233.17" y="253.40" font-size="8.6" font-weight="normal" fill="#222" stroke="#222" stroke-width="0.32" textLength="22.62" lengthAdjust="spacingAndGlyphs" >9.3±0.5</text>
<text x="272.25" y="253.40" font-size="8.6" font-weight="normal" fill="#222" stroke="#222" stroke-width="0.32" textLength="22.62" lengthAdjust="spacingAndGlyphs" >6.2±1.6</text>
<text x="308.79" y="253.40" font-size="8.6" font-weight="normal" fill="#222" stroke="#222" stroke-width="0.32" textLength="22.62" lengthAdjust="spacingAndGlyphs" >2.7±0.2</text>
<text x="344.87" y="253.40" font-size="8.6" font-weight="normal" fill="#222" stroke="#222" stroke-width="0.32" textLength="25.89" lengthAdjust="spacingAndGlyphs" >11.5±1.2</text>
<text x="20.76" y="268.00" font-size="8.6" font-weight="bold" fill="#111" stroke="#111" stroke-width="0.22" textLength="32.41" lengthAdjust="spacingAndGlyphs" >miR-17-92</text>
<text x="66.79" y="268.00" font-size="8.6" font-weight="normal" fill="#222" stroke="#222" stroke-width="0.32" textLength="29.04" lengthAdjust="spacingAndGlyphs" >0.04±0.4*</text>
<text x="108.55" y="268.00" font-size="8.6" font-weight="normal" fill="#222" stroke="#222" stroke-width="0.32" textLength="30.18" lengthAdjust="spacingAndGlyphs" >0.001±0.2</text>
<text x="149.79" y="268.00" font-size="8.6" font-weight="normal" fill="#222" stroke="#222" stroke-width="0.32" textLength="29.04" lengthAdjust="spacingAndGlyphs" >0.12±0.4*</text>
<text x="190.39" y="268.00" font-size="8.6" font-weight="normal" fill="#222" stroke="#222" stroke-width="0.32" textLength="29.04" lengthAdjust="spacingAndGlyphs" >32.1±2.1*</text>
<text x="231.44" y="268.00" font-size="8.6" font-weight="normal" fill="#222" stroke="#222" stroke-width="0.32" textLength="25.89" lengthAdjust="spacingAndGlyphs" >11.2±0.3</text>
<text x="268.87" y="268.00" font-size="8.6" font-weight="normal" fill="#222" stroke="#222" stroke-width="0.32" textLength="29.04" lengthAdjust="spacingAndGlyphs" >17.1±1.4*</text>
<text x="308.79" y="268.00" font-size="8.6" font-weight="normal" fill="#222" stroke="#222" stroke-width="0.32" textLength="22.62" lengthAdjust="spacingAndGlyphs" >6.0±0.7</text>
<text x="343.29" y="268.00" font-size="8.6" font-weight="normal" fill="#222" stroke="#222" stroke-width="0.32" textLength="29.04" lengthAdjust="spacingAndGlyphs" >31.5±0.4*</text>
<text x="19.80" y="283.70" font-size="8.6" font-weight="bold" fill="#111" stroke="#111" stroke-width="0.22" textLength="34.86" lengthAdjust="spacingAndGlyphs" >Uninfected</text>
<text x="67.00" y="283.70" font-size="8.6" font-weight="normal" fill="#222" stroke="#222" stroke-width="0.32" textLength="26.40" lengthAdjust="spacingAndGlyphs" >0.08±0.3</text>
<text x="108.62" y="283.70" font-size="8.6" font-weight="normal" fill="#222" stroke="#222" stroke-width="0.32" textLength="26.40" lengthAdjust="spacingAndGlyphs" >0.03±0.1</text>
<text x="151.24" y="283.70" font-size="8.6" font-weight="normal" fill="#222" stroke="#222" stroke-width="0.32" textLength="26.40" lengthAdjust="spacingAndGlyphs" >0.05±0.2</text>
<text x="193.10" y="283.70" font-size="8.6" font-weight="normal" fill="#222" stroke="#222" stroke-width="0.32" textLength="22.62" lengthAdjust="spacingAndGlyphs" >0.7±0.1</text>
<text x="229.67" y="283.70" font-size="8.6" font-weight="normal" fill="#222" stroke="#222" stroke-width="0.32" textLength="22.62" lengthAdjust="spacingAndGlyphs" >1.2±0.5</text>
<text x="265.62" y="283.70" font-size="8.6" font-weight="normal" fill="#222" stroke="#222" stroke-width="0.32" textLength="26.40" lengthAdjust="spacingAndGlyphs" >16.2±1.2</text>
<text x="305.67" y="283.70" font-size="8.6" font-weight="normal" fill="#222" stroke="#222" stroke-width="0.32" textLength="26.40" lengthAdjust="spacingAndGlyphs" >28.3±0.3</text>
<text x="346.89" y="283.70" font-size="8.6" font-weight="normal" fill="#222" stroke="#222" stroke-width="0.32" textLength="22.62" lengthAdjust="spacingAndGlyphs" >5.5±0.3</text>
<text x="25.33" y="303.00" font-size="8.6" font-weight="bold" fill="#111" stroke="#111" stroke-width="0.22" textLength="24.15" lengthAdjust="spacingAndGlyphs" >Control</text>
<text x="67.04" y="303.00" font-size="8.6" font-weight="normal" fill="#222" stroke="#222" stroke-width="0.32" textLength="26.40" lengthAdjust="spacingAndGlyphs" >0.08±0.2</text>
<text x="108.60" y="303.00" font-size="8.6" font-weight="normal" fill="#222" stroke="#222" stroke-width="0.32" textLength="26.40" lengthAdjust="spacingAndGlyphs" >0.03±0.3</text>
<text x="151.22" y="303.00" font-size="8.6" font-weight="normal" fill="#222" stroke="#222" stroke-width="0.32" textLength="26.40" lengthAdjust="spacingAndGlyphs" >0.05±0.1</text>
<text x="193.09" y="303.00" font-size="8.6" font-weight="normal" fill="#222" stroke="#222" stroke-width="0.32" textLength="22.62" lengthAdjust="spacingAndGlyphs" >0.7±0.3</text>
<text x="229.70" y="303.00" font-size="8.6" font-weight="normal" fill="#222" stroke="#222" stroke-width="0.32" textLength="22.62" lengthAdjust="spacingAndGlyphs" >1.1±0.7</text>
<text x="265.58" y="303.00" font-size="8.6" font-weight="normal" fill="#222" stroke="#222" stroke-width="0.32" textLength="26.40" lengthAdjust="spacingAndGlyphs" >16.3±0.5</text>
<text x="305.70" y="303.00" font-size="8.6" font-weight="normal" fill="#222" stroke="#222" stroke-width="0.32" textLength="26.40" lengthAdjust="spacingAndGlyphs" >28.3±0.2</text>
<text x="346.89" y="303.00" font-size="8.6" font-weight="normal" fill="#222" stroke="#222" stroke-width="0.32" textLength="22.62" lengthAdjust="spacingAndGlyphs" >5.6±1.3</text>
<text x="20.76" y="317.90" font-size="8.6" font-weight="bold" fill="#111" stroke="#111" stroke-width="0.22" textLength="32.41" lengthAdjust="spacingAndGlyphs" >miR-17-92</text>
<text x="65.59" y="317.90" font-size="8.6" font-weight="normal" fill="#222" stroke="#222" stroke-width="0.32" textLength="29.04" lengthAdjust="spacingAndGlyphs" >0.32±0.1*</text>
<text x="108.62" y="317.90" font-size="8.6" font-weight="normal" fill="#222" stroke="#222" stroke-width="0.32" textLength="26.40" lengthAdjust="spacingAndGlyphs" >0.03±0.1</text>
<text x="149.79" y="317.90" font-size="8.6" font-weight="normal" fill="#222" stroke="#222" stroke-width="0.32" textLength="29.04" lengthAdjust="spacingAndGlyphs" >0.48±0.2*</text>
<text x="191.64" y="317.90" font-size="8.6" font-weight="normal" fill="#222" stroke="#222" stroke-width="0.32" textLength="25.26" lengthAdjust="spacingAndGlyphs" >7.5±1.4*</text>
<text x="229.75" y="317.90" font-size="8.6" font-weight="normal" fill="#222" stroke="#222" stroke-width="0.32" textLength="22.62" lengthAdjust="spacingAndGlyphs" >2.1±0.3</text>
<text x="264.26" y="317.90" font-size="8.6" font-weight="normal" fill="#222" stroke="#222" stroke-width="0.32" textLength="29.04" lengthAdjust="spacingAndGlyphs" >21.1±1.4*</text>
<text x="305.70" y="317.90" font-size="8.6" font-weight="normal" fill="#222" stroke="#222" stroke-width="0.32" textLength="26.40" lengthAdjust="spacingAndGlyphs" >31.2±0.6</text>
<text x="343.47" y="317.90" font-size="8.6" font-weight="normal" fill="#222" stroke="#222" stroke-width="0.32" textLength="29.04" lengthAdjust="spacingAndGlyphs" >10.6±0.4*</text>
<text transform="translate(7.70,262.20) rotate(-90)" x="-0.22" y="0" font-size="7.6" font-weight="bold" fill="#000" stroke="#000" stroke-width="0.22" textLength="24.15" lengthAdjust="spacingAndGlyphs">Spleen</text>
<text transform="translate(8.30,321.00) rotate(-90)" x="-0.46" y="0" font-size="7.8" font-weight="bold" fill="#000" stroke="#000" stroke-width="0.22" textLength="45.06" lengthAdjust="spacingAndGlyphs">Bone Marrow</text>
<text x="380.24" y="150.70" font-size="11.5" font-weight="bold" fill="#000" stroke="#000" stroke-width="0.22" textLength="7.79" lengthAdjust="spacingAndGlyphs" >E</text>
<line x1="424.50" y1="140.40" x2="424.50" y2="222.50" stroke="#000" stroke-width="1"/>
<line x1="422.30" y1="222.00" x2="424.50" y2="222.00" stroke="#000" stroke-width="1"/>
<text x="413.70" y="224.50" font-size="7.0" font-weight="bold" fill="#000" stroke="#000" stroke-width="0.22" textLength="3.89" lengthAdjust="spacingAndGlyphs" >0</text>
<line x1="422.30" y1="210.48" x2="424.50" y2="210.48" stroke="#000" stroke-width="1"/>
<text x="405.93" y="212.98" font-size="7.0" font-weight="bold" fill="#000" stroke="#000" stroke-width="0.22" textLength="11.68" lengthAdjust="spacingAndGlyphs" >100</text>
<line x1="422.30" y1="198.96" x2="424.50" y2="198.96" stroke="#000" stroke-width="1"/>
<text x="405.93" y="201.46" font-size="7.0" font-weight="bold" fill="#000" stroke="#000" stroke-width="0.22" textLength="11.68" lengthAdjust="spacingAndGlyphs" >200</text>
<line x1="422.30" y1="187.44" x2="424.50" y2="187.44" stroke="#000" stroke-width="1"/>
<text x="405.93" y="189.94" font-size="7.0" font-weight="bold" fill="#000" stroke="#000" stroke-width="0.22" textLength="11.68" lengthAdjust="spacingAndGlyphs" >300</text>
<line x1="422.30" y1="175.92" x2="424.50" y2="175.92" stroke="#000" stroke-width="1"/>
<text x="405.93" y="178.42" font-size="7.0" font-weight="bold" fill="#000" stroke="#000" stroke-width="0.22" textLength="11.68" lengthAdjust="spacingAndGlyphs" >400</text>
<line x1="422.30" y1="164.40" x2="424.50" y2="164.40" stroke="#000" stroke-width="1"/>
<text x="405.93" y="166.90" font-size="7.0" font-weight="bold" fill="#000" stroke="#000" stroke-width="0.22" textLength="11.68" lengthAdjust="spacingAndGlyphs" >500</text>
<line x1="422.30" y1="152.88" x2="424.50" y2="152.88" stroke="#000" stroke-width="1"/>
<text x="405.93" y="155.38" font-size="7.0" font-weight="bold" fill="#000" stroke="#000" stroke-width="0.22" textLength="11.68" lengthAdjust="spacingAndGlyphs" >600</text>
<line x1="422.30" y1="141.36" x2="424.50" y2="141.36" stroke="#000" stroke-width="1"/>
<text x="405.93" y="143.86" font-size="7.0" font-weight="bold" fill="#000" stroke="#000" stroke-width="0.22" textLength="11.68" lengthAdjust="spacingAndGlyphs" >700</text>
<line x1="424.00" y1="222.00" x2="514.30" y2="222.00" stroke="#000" stroke-width="1.1"/>
<line x1="454.43" y1="222.00" x2="454.43" y2="224.30" stroke="#000" stroke-width="1"/>
<line x1="484.36" y1="222.00" x2="484.36" y2="224.30" stroke="#000" stroke-width="1"/>
<line x1="514.29" y1="222.00" x2="514.29" y2="224.30" stroke="#000" stroke-width="1"/>
<rect x="431.40" y="221.65" width="8.40" height="0.35" fill="url(#blueg)" />
<rect x="447.90" y="197.96" width="1.70" height="24.04" fill="#111" />
<rect x="439.80" y="196.66" width="8.40" height="25.34" fill="url(#redg)" />
<line x1="444.00" y1="193.20" x2="444.00" y2="200.11" stroke="#5a1a1a" stroke-width="0.8"/>
<line x1="442.80" y1="193.20" x2="445.20" y2="193.20" stroke="#5a1a1a" stroke-width="0.8"/>
<line x1="442.80" y1="200.11" x2="445.20" y2="200.11" stroke="#5a1a1a" stroke-width="0.8"/>
<rect x="469.53" y="209.75" width="1.30" height="12.25" fill="#1c2b60" />
<rect x="461.33" y="208.75" width="8.40" height="13.25" fill="url(#blueg)" />
<rect x="477.83" y="184.71" width="1.70" height="37.29" fill="#111" />
<rect x="469.73" y="183.41" width="8.40" height="38.59" fill="url(#redg)" />
<line x1="465.53" y1="207.60" x2="465.53" y2="209.90" stroke="#1a2a50" stroke-width="0.8"/>
<line x1="464.43" y1="207.60" x2="466.63" y2="207.60" stroke="#1a2a50" stroke-width="0.8"/>
<line x1="464.43" y1="209.90" x2="466.63" y2="209.90" stroke="#1a2a50" stroke-width="0.8"/>
<line x1="473.93" y1="179.03" x2="473.93" y2="187.79" stroke="#5a1a1a" stroke-width="0.8"/>
<line x1="472.73" y1="179.03" x2="475.13" y2="179.03" stroke="#5a1a1a" stroke-width="0.8"/>
<line x1="472.73" y1="187.79" x2="475.13" y2="187.79" stroke="#5a1a1a" stroke-width="0.8"/>
<rect x="491.26" y="221.77" width="8.40" height="0.23" fill="url(#blueg)" />
<rect x="507.76" y="157.64" width="1.70" height="64.36" fill="#111" />
<rect x="499.66" y="156.34" width="8.40" height="65.66" fill="url(#redg)" />
<line x1="503.86" y1="150.00" x2="503.86" y2="162.67" stroke="#5a1a1a" stroke-width="0.8"/>
<line x1="502.66" y1="150.00" x2="505.06" y2="150.00" stroke="#5a1a1a" stroke-width="0.8"/>
<line x1="502.66" y1="162.67" x2="505.06" y2="162.67" stroke="#5a1a1a" stroke-width="0.8"/>
<circle cx="441.50" cy="188.40" r="1.4" fill="#000"/>
<path d="M441.50,186.50 l0.45,0.9 l-0.9,0 z" fill="#000"/>
<circle cx="446.20" cy="188.40" r="1.4" fill="#000"/>
<path d="M446.20,186.50 l0.45,0.9 l-0.9,0 z" fill="#000"/>
<circle cx="473.90" cy="173.20" r="1.4" fill="#000"/>
<path d="M473.90,171.30 l0.45,0.9 l-0.9,0 z" fill="#000"/>
<circle cx="499.00" cy="144.50" r="1.4" fill="#000"/>
<path d="M499.00,142.60 l0.45,0.9 l-0.9,0 z" fill="#000"/>
<circle cx="503.60" cy="144.50" r="1.4" fill="#000"/>
<path d="M503.60,142.60 l0.45,0.9 l-0.9,0 z" fill="#000"/>
<circle cx="508.30" cy="144.50" r="1.4" fill="#000"/>
<path d="M508.30,142.60 l0.45,0.9 l-0.9,0 z" fill="#000"/>
<text x="425.11" y="238.60" font-size="8.7" font-weight="bold" fill="#000" stroke="#000" stroke-width="0.22" textLength="29.09" lengthAdjust="spacingAndGlyphs" >CFU-GM</text>
<text x="458.75" y="238.60" font-size="8.7" font-weight="bold" fill="#000" stroke="#000" stroke-width="0.22" textLength="21.30" lengthAdjust="spacingAndGlyphs" >BFU-E</text>
<text x="490.94" y="238.60" font-size="8.7" font-weight="bold" fill="#000" stroke="#000" stroke-width="0.22" textLength="15.82" lengthAdjust="spacingAndGlyphs" >CFU-</text>
<text x="488.51" y="248.60" font-size="8.7" font-weight="bold" fill="#000" stroke="#000" stroke-width="0.22" textLength="22.78" lengthAdjust="spacingAndGlyphs" >GEMM</text>
<rect x="438.00" y="146.80" width="4.00" height="3.80" fill="#6088ca" />
<rect x="438.00" y="159.30" width="4.00" height="3.80" fill="#d05868" />
<text x="443.57" y="153.10" font-size="8.5" font-weight="bold" fill="#000" stroke="#000" stroke-width="0.22" textLength="29.30" lengthAdjust="spacingAndGlyphs" >Control</text>
<text x="443.37" y="165.20" font-size="8.5" font-weight="bold" fill="#000" stroke="#000" stroke-width="0.22" textLength="38.85" lengthAdjust="spacingAndGlyphs" >miR-17-92</text>
<text transform="translate(400.60,208.30) rotate(-90)" x="-0.32" y="0" font-size="8" font-weight="bold" fill="#000" stroke="#000" stroke-width="0.22" textLength="57.41" lengthAdjust="spacingAndGlyphs">Colonies (x10²)</text>
<line x1="425.50" y1="257.30" x2="425.50" y2="335.50" stroke="#000" stroke-width="1"/>
<line x1="423.30" y1="335.00" x2="425.50" y2="335.00" stroke="#000" stroke-width="1"/>
<text x="415.20" y="337.50" font-size="7.0" font-weight="bold" fill="#000" stroke="#000" stroke-width="0.22" textLength="3.89" lengthAdjust="spacingAndGlyphs" >0</text>
<line x1="423.30" y1="319.64" x2="425.50" y2="319.64" stroke="#000" stroke-width="1"/>
<text x="407.43" y="322.14" font-size="7.0" font-weight="bold" fill="#000" stroke="#000" stroke-width="0.22" textLength="11.68" lengthAdjust="spacingAndGlyphs" >200</text>
<line x1="423.30" y1="304.28" x2="425.50" y2="304.28" stroke="#000" stroke-width="1"/>
<text x="407.43" y="306.78" font-size="7.0" font-weight="bold" fill="#000" stroke="#000" stroke-width="0.22" textLength="11.68" lengthAdjust="spacingAndGlyphs" >400</text>
<line x1="423.30" y1="288.92" x2="425.50" y2="288.92" stroke="#000" stroke-width="1"/>
<text x="407.43" y="291.42" font-size="7.0" font-weight="bold" fill="#000" stroke="#000" stroke-width="0.22" textLength="11.68" lengthAdjust="spacingAndGlyphs" >600</text>
<line x1="423.30" y1="273.56" x2="425.50" y2="273.56" stroke="#000" stroke-width="1"/>
<text x="407.43" y="276.06" font-size="7.0" font-weight="bold" fill="#000" stroke="#000" stroke-width="0.22" textLength="11.68" lengthAdjust="spacingAndGlyphs" >800</text>
<line x1="423.30" y1="258.20" x2="425.50" y2="258.20" stroke="#000" stroke-width="1"/>
<text x="403.50" y="260.70" font-size="7.0" font-weight="bold" fill="#000" stroke="#000" stroke-width="0.22" textLength="15.57" lengthAdjust="spacingAndGlyphs" >1000</text>
<line x1="425.00" y1="335.00" x2="517.30" y2="335.00" stroke="#000" stroke-width="1.1"/>
<line x1="456.10" y1="335.00" x2="456.10" y2="337.30" stroke="#000" stroke-width="1"/>
<line x1="486.70" y1="335.00" x2="486.70" y2="337.30" stroke="#000" stroke-width="1"/>
<line x1="517.30" y1="335.00" x2="517.30" y2="337.30" stroke="#000" stroke-width="1"/>
<rect x="440.60" y="334.46" width="1.30" height="0.54" fill="#1c2b60" />
<rect x="432.40" y="333.46" width="8.40" height="1.54" fill="url(#blueg)" />
<rect x="448.90" y="311.72" width="1.70" height="23.28" fill="#111" />
<rect x="440.80" y="310.42" width="8.40" height="24.58" fill="url(#redg)" />
<line x1="436.60" y1="332.85" x2="436.60" y2="334.08" stroke="#1a2a50" stroke-width="0.8"/>
<line x1="435.50" y1="332.85" x2="437.70" y2="332.85" stroke="#1a2a50" stroke-width="0.8"/>
<line x1="435.50" y1="334.08" x2="437.70" y2="334.08" stroke="#1a2a50" stroke-width="0.8"/>
<line x1="445.00" y1="309.66" x2="445.00" y2="311.19" stroke="#5a1a1a" stroke-width="0.8"/>
<line x1="443.80" y1="309.66" x2="446.20" y2="309.66" stroke="#5a1a1a" stroke-width="0.8"/>
<line x1="443.80" y1="311.19" x2="446.20" y2="311.19" stroke="#5a1a1a" stroke-width="0.8"/>
<rect x="463.00" y="334.69" width="8.40" height="0.31" fill="url(#blueg)" />
<rect x="479.50" y="320.56" width="1.70" height="14.44" fill="#111" />
<rect x="471.40" y="319.26" width="8.40" height="15.74" fill="url(#redg)" />
<line x1="475.60" y1="318.64" x2="475.60" y2="319.87" stroke="#5a1a1a" stroke-width="0.8"/>
<line x1="474.40" y1="318.64" x2="476.80" y2="318.64" stroke="#5a1a1a" stroke-width="0.8"/>
<line x1="474.40" y1="319.87" x2="476.80" y2="319.87" stroke="#5a1a1a" stroke-width="0.8"/>
<rect x="501.80" y="335.39" width="1.30" height="-0.39" fill="#1c2b60" />
<rect x="493.60" y="334.39" width="8.40" height="0.61" fill="url(#blueg)" />
<rect x="510.10" y="274.09" width="1.70" height="60.91" fill="#111" />
<rect x="502.00" y="272.79" width="8.40" height="62.21" fill="url(#redg)" />
<line x1="506.20" y1="271.26" x2="506.20" y2="274.33" stroke="#5a1a1a" stroke-width="0.8"/>
<line x1="505.00" y1="271.26" x2="507.40" y2="271.26" stroke="#5a1a1a" stroke-width="0.8"/>
<line x1="505.00" y1="274.33" x2="507.40" y2="274.33" stroke="#5a1a1a" stroke-width="0.8"/>
<circle cx="441.30" cy="303.50" r="1.4" fill="#000"/>
<path d="M441.30,301.60 l0.45,0.9 l-0.9,0 z" fill="#000"/>
<circle cx="445.90" cy="303.50" r="1.4" fill="#000"/>
<path d="M445.90,301.60 l0.45,0.9 l-0.9,0 z" fill="#000"/>
<circle cx="450.40" cy="303.50" r="1.4" fill="#000"/>
<path d="M450.40,301.60 l0.45,0.9 l-0.9,0 z" fill="#000"/>
<circle cx="473.70" cy="312.50" r="1.4" fill="#000"/>
<path d="M473.70,310.60 l0.45,0.9 l-0.9,0 z" fill="#000"/>
<circle cx="478.30" cy="312.50" r="1.4" fill="#000"/>
<path d="M478.30,310.60 l0.45,0.9 l-0.9,0 z" fill="#000"/>
<circle cx="501.30" cy="264.60" r="1.4" fill="#000"/>
<path d="M501.30,262.70 l0.45,0.9 l-0.9,0 z" fill="#000"/>
<circle cx="505.90" cy="264.60" r="1.4" fill="#000"/>
<path d="M505.90,262.70 l0.45,0.9 l-0.9,0 z" fill="#000"/>
<circle cx="510.40" cy="264.60" r="1.4" fill="#000"/>
<path d="M510.40,262.70 l0.45,0.9 l-0.9,0 z" fill="#000"/>
<text x="427.41" y="351.50" font-size="8.7" font-weight="bold" fill="#000" stroke="#000" stroke-width="0.22" textLength="29.30" lengthAdjust="spacingAndGlyphs" >CFU-GM</text>
<text x="459.93" y="351.50" font-size="8.7" font-weight="bold" fill="#000" stroke="#000" stroke-width="0.22" textLength="22.23" lengthAdjust="spacingAndGlyphs" >BFU-E</text>
<text x="493.73" y="351.50" font-size="8.7" font-weight="bold" fill="#000" stroke="#000" stroke-width="0.22" textLength="15.92" lengthAdjust="spacingAndGlyphs" >CFU-</text>
<text x="489.92" y="361.50" font-size="8.7" font-weight="bold" fill="#000" stroke="#000" stroke-width="0.22" textLength="21.84" lengthAdjust="spacingAndGlyphs" >GEMM</text>
<rect x="436.00" y="263.20" width="3.80" height="3.30" fill="#6088ca" />
<rect x="436.00" y="274.70" width="3.80" height="3.30" fill="#d05868" />
<text x="441.77" y="268.90" font-size="8.5" font-weight="bold" fill="#000" stroke="#000" stroke-width="0.22" textLength="28.89" lengthAdjust="spacingAndGlyphs" >Control</text>
<text x="441.57" y="280.30" font-size="8.5" font-weight="bold" fill="#000" stroke="#000" stroke-width="0.22" textLength="38.85" lengthAdjust="spacingAndGlyphs" >miR-17-92</text>
<text transform="translate(402.00,324.10) rotate(-90)" x="-0.32" y="0" font-size="8" font-weight="bold" fill="#000" stroke="#000" stroke-width="0.22" textLength="57.81" lengthAdjust="spacingAndGlyphs">Colonies (x10²)</text>
</g>
</svg></body></html>
